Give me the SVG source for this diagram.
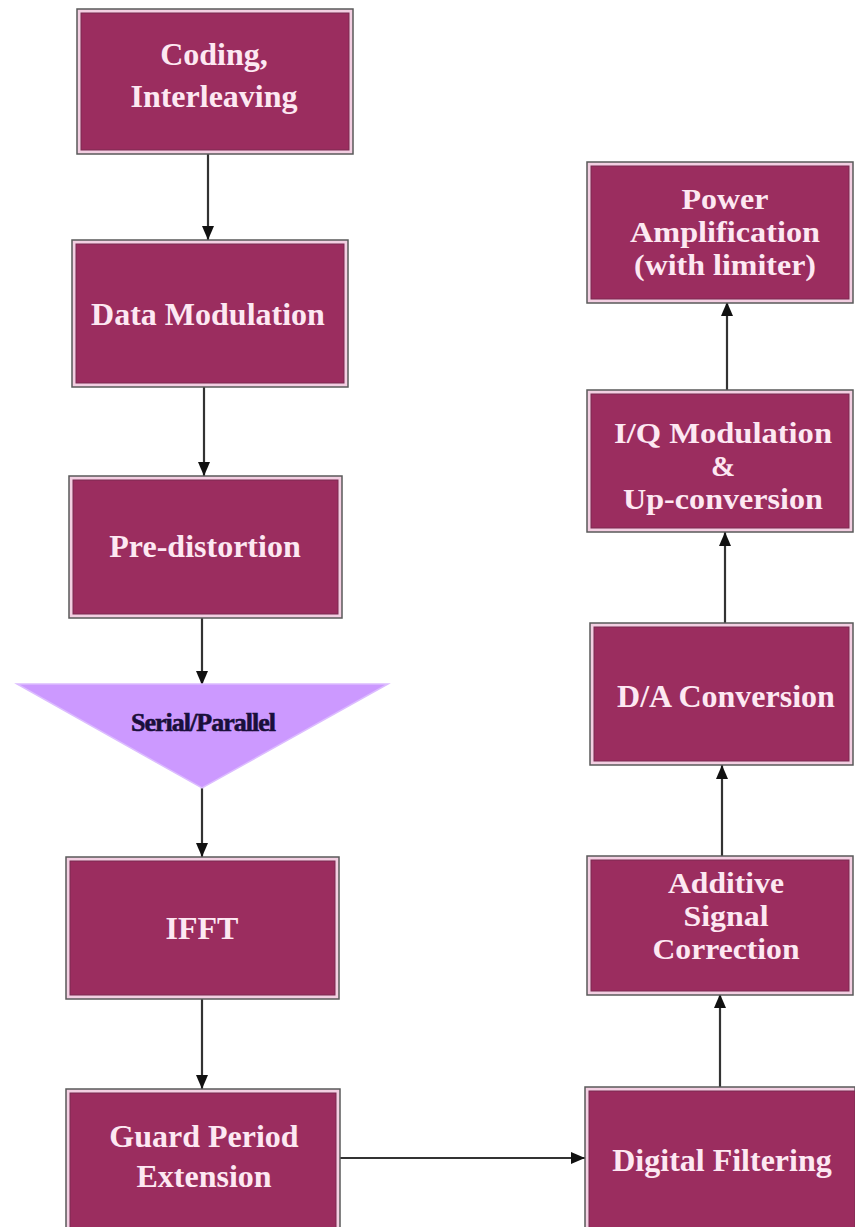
<svg xmlns="http://www.w3.org/2000/svg" width="855" height="1227" viewBox="0 0 855 1227">
<defs>
<style>
.box-o{fill:#f3cfe2;stroke:#5a5a5a;stroke-width:1.5}
.box-i{fill:#9b2d5f;stroke:#7a2a50;stroke-width:1}
.t{font-family:"Liberation Serif","Times New Roman",serif;font-weight:bold;font-size:32px;fill:#fde8f2;text-anchor:middle}
.s{font-size:29px}
.tri{fill:#cc99ff;stroke:#dcbcff;stroke-width:1.5}
.tt{font-family:"Liberation Serif","Times New Roman",serif;font-weight:bold;font-size:26px;fill:#1a0f3a;stroke:#1a0f3a;stroke-width:0.6;text-anchor:middle;letter-spacing:-1px}
.c{stroke:#333;stroke-width:2.2;fill:none;marker-end:url(#ah)}
</style>
<marker id="ah" markerUnits="userSpaceOnUse" markerWidth="16" markerHeight="16" viewBox="0 0 16 16" refX="14" refY="8" orient="auto">
<path d="M0,2 L14,8 L0,14 Z" fill="#111"/>
</marker>
</defs>
<rect width="855" height="1227" fill="#fff"/>
<g id="connectors">
<line class="c" x1="208" y1="154" x2="208" y2="240"/>
<line class="c" x1="204" y1="387" x2="204" y2="476"/>
<line class="c" x1="202" y1="618" x2="202" y2="685"/>
<line class="c" x1="202" y1="788" x2="202" y2="857"/>
<line class="c" x1="202" y1="999" x2="202" y2="1089"/>
<line class="c" x1="340" y1="1158" x2="585" y2="1158"/>
<line class="c" x1="720" y1="1087" x2="720" y2="994"/>
<line class="c" x1="722" y1="856" x2="722" y2="765"/>
<line class="c" x1="725" y1="623" x2="725" y2="532"/>
<line class="c" x1="727" y1="390" x2="727" y2="302"/>
</g>
<g id="coding">
<rect class="box-o" x="77" y="9" width="276" height="145"/>
<rect class="box-i" x="81" y="13" width="268" height="137"/>
<text class="t" x="214" y="65">Coding,</text>
<text class="t" x="214" y="107">Interleaving</text>
</g>
<g id="datamod">
<rect class="box-o" x="72" y="240" width="276" height="147"/>
<rect class="box-i" x="76" y="244" width="268" height="139"/>
<text class="t" x="208" y="325">Data Modulation</text>
</g>
<g id="predist">
<rect class="box-o" x="69" y="476" width="273" height="142"/>
<rect class="box-i" x="73" y="480" width="265" height="134"/>
<text class="t" x="205" y="557">Pre-distortion</text>
</g>
<g id="sp">
<polygon class="tri" points="17,684 388,684 202,788"/>
<text class="tt" x="203" y="731">Serial/Parallel</text>
</g>
<g id="ifft">
<rect class="box-o" x="66" y="857" width="273" height="142"/>
<rect class="box-i" x="70" y="861" width="265" height="134"/>
<text class="t" x="202" y="939">IFFT</text>
</g>
<g id="guard">
<rect class="box-o" x="66" y="1089" width="274" height="140"/>
<rect class="box-i" x="70" y="1093" width="266" height="140"/>
<text class="t" x="204" y="1147">Guard Period</text>
<text class="t" x="204" y="1187">Extension</text>
</g>
<g id="digfilt">
<rect class="box-o" x="585" y="1087" width="270" height="142"/>
<rect class="box-i" x="589" y="1091" width="266" height="142"/>
<text class="t" x="722" y="1171">Digital Filtering</text>
</g>
<g id="additive">
<rect class="box-o" x="587" y="856" width="266" height="139"/>
<rect class="box-i" x="591" y="860" width="258" height="131"/>
<text class="t s" x="726" y="893" textLength="116" lengthAdjust="spacingAndGlyphs">Additive</text>
<text class="t s" x="726" y="926" textLength="85" lengthAdjust="spacingAndGlyphs">Signal</text>
<text class="t s" x="726" y="959" textLength="147" lengthAdjust="spacingAndGlyphs">Correction</text>
</g>
<g id="da">
<rect class="box-o" x="590" y="623" width="263" height="142"/>
<rect class="box-i" x="594" y="627" width="255" height="134"/>
<text class="t" x="726" y="707">D/A Conversion</text>
</g>
<g id="iq">
<rect class="box-o" x="587" y="390" width="266" height="142"/>
<rect class="box-i" x="591" y="394" width="258" height="134"/>
<text class="t s" x="723" y="443" textLength="218" lengthAdjust="spacingAndGlyphs">I/Q Modulation</text>
<text class="t s" x="723" y="476">&amp;</text>
<text class="t s" x="723" y="509" textLength="200" lengthAdjust="spacingAndGlyphs">Up-conversion</text>
</g>
<g id="power">
<rect class="box-o" x="587" y="162" width="266" height="141"/>
<rect class="box-i" x="591" y="166" width="258" height="133"/>
<text class="t s" x="725" y="209" textLength="87" lengthAdjust="spacingAndGlyphs">Power</text>
<text class="t s" x="725" y="242" textLength="190" lengthAdjust="spacingAndGlyphs">Amplification</text>
<text class="t s" x="725" y="275" textLength="182" lengthAdjust="spacingAndGlyphs">(with limiter)</text>
</g>
</svg>
